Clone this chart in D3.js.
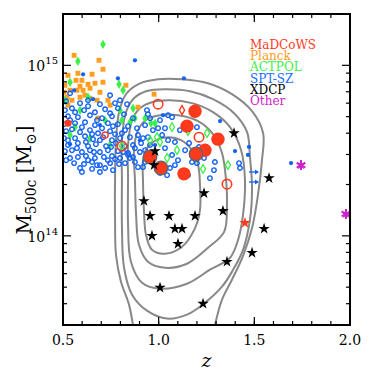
<!DOCTYPE html>
<html>
<head>
<meta charset="utf-8">
<script src="https://cdn.jsdelivr.net/npm/d3@7"></script>
<style>
  body { margin: 0; background: white; }
  text { font-family: "DejaVu Serif", serif; }
</style>
</head>
<body>
<div id="plot"></div>
<script>
// masses in units of 1e14 Msun, z = redshift
var sptRings = [
  [0.516,6.16],[0.589,6.00],[0.631,6.24],[0.693,5.92],[0.772,6.00],
  [0.510,5.46],[0.547,5.60],[0.610,5.46],[0.667,5.31],[0.720,5.53],[0.787,5.60],
  [0.526,5.03],[0.578,4.97],[0.641,5.10],[0.704,4.90],[0.756,5.03],[0.819,5.17],
  [0.505,4.52],[0.563,4.58],[0.615,4.64],[0.667,4.46],[0.735,4.58],[0.787,4.52],[0.840,4.40],
  [0.516,4.11],[0.547,4.22],[0.589,4.06],[0.641,4.17],[0.683,4.00],[0.746,4.11],[0.772,3.95],[0.824,4.17],
  [0.505,3.74],[0.563,3.74],[0.615,3.84],[0.657,3.69],[0.709,3.79],[0.756,3.64],[0.798,3.74],[0.850,3.79],
  [0.526,3.41],[0.578,3.50],[0.631,3.36],[0.672,3.45],[0.725,3.36],[0.777,3.50],[0.824,3.36],[0.866,3.41],
  [0.510,3.14],[0.547,3.18],[0.599,3.10],[0.641,3.18],[0.693,3.10],[0.735,3.18],[0.787,3.14],[0.840,3.06],
  [0.537,2.86],[0.578,2.90],[0.620,2.94],[0.667,2.86],[0.714,2.90],[0.756,2.94],[0.798,2.86],[0.850,2.86],
  [0.558,2.67],[0.610,2.64],[0.652,2.71],[0.693,2.60],[0.746,2.67],[0.793,2.64],
  [0.589,2.50],[0.652,2.47],[0.720,2.50],[0.761,2.43],
  [0.537,4.77],[0.599,4.34],[0.652,3.95],[0.704,4.28],[0.761,4.40],[0.808,4.00],
  [0.573,3.27],[0.662,3.10],[0.751,3.32],[0.814,3.10],[0.526,3.64],[0.620,3.55],
  [0.693,3.64],[0.678,4.77],[0.563,5.31],[0.631,5.76],[0.746,5.24],[0.516,2.78],
  [0.631,2.78],[0.735,2.78],[0.824,2.67],[0.678,2.60],[0.772,2.82],[0.599,2.37],
  [0.693,2.37],[0.537,6.86],[0.746,6.68],[0.798,6.24],
  [0.835,5.92],[0.866,4.90],[0.939,5.46],[0.944,5.17],[1.049,5.10],[1.070,4.97],
  [0.997,4.28],[1.033,4.28],[0.929,4.46],[0.887,4.28],[0.918,3.74],[0.944,3.79],[0.970,4.17],
  [1.049,3.64],[0.908,3.50],[0.929,3.18],[0.876,3.27],[0.840,2.98],[0.866,2.90],[0.876,2.71],
  [0.892,2.53],[0.929,2.71],[0.918,2.53],[1.059,2.50],[1.085,2.60],[1.007,2.34],[1.044,2.27],
  [0.902,3.10],[0.955,3.41],[1.018,3.90],[0.892,3.90],[1.111,4.17],[1.138,3.18],
  [1.101,2.78],[1.033,3.27],[1.070,2.98],[0.955,4.90],[1.007,4.77],
  [1.085,3.55],[1.174,2.71],[1.153,2.27],[1.200,4.34],[1.159,3.50],[1.211,3.32],[1.237,2.86],
  [1.294,2.71],[1.289,2.43],[1.200,2.67],[1.268,2.18],[1.420,2.67],[1.425,2.50]
];
var sptDots = [
  [0.876,10.7],[0.787,8.39],[0.558,7.14],[0.605,8.86],[1.132,8.39],[0.657,6.33],
  [1.321,4.71],[1.399,3.14],[1.472,3.32],[1.467,2.98],[1.692,2.67],[1.023,5.10],
  [0.902,3.64],[0.981,3.41],[0.537,3.45],[0.693,4.46]
];
var planck = [
  [0.558,11.44],[0.688,10.7],[0.709,9.48],[0.578,8.98],[0.652,8.86],[0.709,7.96],
  [0.667,7.85],[0.599,8.17],[0.631,7.74],[0.589,7.54],[0.605,7.14],[0.641,7.34],
  [0.510,7.64],[0.573,7.14],[0.829,7.64],[0.521,6.50],[0.547,6.24],[0.641,6.41],
  [0.678,6.24],[0.735,6.24],[0.746,5.84],[0.683,4.90],[0.892,5.68],[0.976,6.77],
  [0.526,8.74],[0.537,7.14],[0.615,6.68],[0.505,6.95],[0.693,6.95],[0.526,5.84],
  [0.589,6.50],[0.568,8.17]
];
var actFilled = [
  [0.709,13.27],[0.578,10.55],[0.537,7.96],[0.793,7.74],[0.814,7.14],[0.631,6.50],
  [0.563,4.34],[0.537,3.90],[0.798,5.46],[0.808,4.77],[0.866,5.60],[0.876,4.90],
  [0.960,4.58],[0.981,4.58],[0.850,4.64],[0.510,6.24],[0.589,5.46],[0.746,3.41],
  [0.641,3.74],[0.720,4.77],[0.929,4.90]
];
var actOpen = [
  [1.070,4.34],[0.991,3.79],[1.007,3.55],[1.044,2.86],[1.096,3.18],[1.153,4.11],
  [1.253,4.00],[1.362,2.60],[1.232,2.47],[0.808,3.36],[0.955,3.64]
];
var madcowsBig = [[1.190,5.38],[1.148,4.40],[1.310,3.69],[1.242,3.18],[1.132,2.31]];
var madcowsEdged = [[1.195,3.02],[0.955,2.90],[1.012,2.50]];
var madcowsRings = [[0.997,5.92],[1.211,3.79],[0.808,3.36],[1.357,2.01]];
var redSmallRing = [[0.720,3.90]];
var redSmallDot = [[0.526,4.58]];
var redDiamond = [[1.122,5.46]];
var redStar = [[1.451,1.19]];
var xdcp = [
  [0.923,1.60],[0.955,1.31],[1.054,1.31],[1.085,1.10],[1.122,1.10],[0.965,1.00],
  [1.101,0.898],[1.007,0.497],[0.981,3.14],[0.976,2.60],[1.237,1.78],[1.190,1.31],
  [1.336,1.40],[1.551,1.10],[1.488,0.795],[1.357,0.705],[1.232,0.400],[1.394,4.00],
  [1.577,2.18]
];
var other = [[1.744,2.60],[1.979,1.345]];
var arrows = [[1.498,2.37],[1.498,2.07]];

// contour levels, inner to outer (closed loops)
var contour1 = [[0.918,2.13],[0.918,2.78],[0.939,3.27],[0.986,3.64],[1.049,3.79],[1.117,3.64],
  [1.174,3.18],[1.206,2.60],[1.216,1.99],[1.216,1.42],[1.190,1.11],[1.122,0.862],[1.033,0.785],
  [0.965,0.828],[0.934,1.01],[0.923,1.42]];
var contour2 = [[0.876,2.13],[0.871,3.18],[0.892,4.17],[0.939,4.83],[1.007,5.10],[1.101,5.10],
  [1.206,4.71],[1.284,3.95],[1.331,3.06],[1.352,2.13],[1.357,1.52],[1.342,1.055],[1.258,0.851],
  [1.148,0.686],[1.033,0.650],[0.944,0.705],[0.897,0.886],[0.882,1.33]];
var contour3 = [[0.840,2.13],[0.840,3.41],[0.861,4.77],[0.902,5.60],[0.965,6.08],[1.059,6.24],
  [1.174,6.00],[1.284,5.31],[1.373,4.34],[1.431,3.18],[1.451,2.13],[1.441,1.33],[1.415,0.947],
  [1.373,0.744],[1.268,0.633],[1.148,0.524],[1.007,0.490],[0.913,0.531],[0.855,0.705],[0.840,1.16]];
var contour4 = [[0.808,2.13],[0.808,3.64],[0.829,5.31],[0.871,6.41],[0.934,7.05],[1.033,7.24],
  [1.164,7.05],[1.284,6.33],[1.394,5.24],[1.462,4.06],[1.477,2.90],[1.488,1.93],[1.477,1.24],
  [1.441,0.828],[1.383,0.616],[1.331,0.503],[1.242,0.405],[1.148,0.345],[1.044,0.327],
  [0.939,0.364],[0.861,0.452],[0.819,0.650],[0.808,1.16]];
// outermost level, open (runs off the bottom axis)
var contour5 = [[0.866,0.298],[0.845,0.395],[0.803,0.538],[0.777,0.774],[0.772,1.24],[0.772,2.13],
  [0.777,3.64],[0.793,5.31],[0.829,6.77],[0.892,7.74],[0.997,8.28],[1.122,8.28],[1.258,7.85],
  [1.383,6.77],[1.488,5.38],[1.546,4.00],[1.540,2.78],[1.519,1.74],[1.488,1.11],[1.441,0.764],
  [1.383,0.553],[1.331,0.422],[1.294,0.298]];

var legendNames = ["MaDCoWS", "Planck", "ACTPOL", "SPT-SZ", "XDCP", "Other"];
var legendColors = ["#ff3a1c", "#ff9d1f", "#3cf046", "#1a6bff", "#000000", "#cc22cc"];

var xTicks = [0.5, 1.0, 1.5, 2.0];

var W = 374, H = 374;
var margin = { top: 14, right: 24, bottom: 49, left: 63 };
var width = W - margin.left - margin.right;
var height = H - margin.top - margin.bottom;

var svg = d3.select("#plot").append("svg")
    .attr("width", W).attr("height", H);
var g = svg.append("g").attr("transform", `translate(${margin.left},${margin.top})`);

var x = d3.scaleLinear().domain([0.5, 2.0]).range([0, width]);
var y = d3.scaleLog().domain([0.3, 20]).range([height, 0]);

g.append("clipPath").attr("id", "clip").append("rect")
    .attr("width", width).attr("height", height);
var area = g.append("g").attr("clip-path", "url(#clip)");

// contours
var closedLine = d3.line().x(d => x(d[0])).y(d => y(d[1])).curve(d3.curveCatmullRomClosed.alpha(0.5));
var openLine = d3.line().x(d => x(d[0])).y(d => y(d[1])).curve(d3.curveCatmullRom.alpha(0.5));
[contour1, contour2, contour3, contour4].forEach(function(c) {
  area.append("path").datum(c).attr("d", closedLine)
      .attr("fill", "none").attr("stroke", "#888").attr("stroke-width", 2);
});
area.append("path").datum(contour5).attr("d", openLine)
    .attr("fill", "none").attr("stroke", "#888").attr("stroke-width", 2);

function pts(data) {
  return area.append("g").selectAll("path").data(data).enter().append("path")
      .attr("transform", d => `translate(${x(d[0])},${y(d[1])})`);
}

pts(planck).attr("d", d3.symbol(d3.symbolSquare, 24)).attr("fill", "#ff9d1f");
pts(actFilled).attr("d", d3.symbol(d3.symbolDiamond, 26)).attr("fill", "#3cf046");
pts(sptRings).attr("d", d3.symbol(d3.symbolCircle, 16))
    .attr("fill", "none").attr("stroke", "#1262f5").attr("stroke-width", 1.4);
pts(sptDots).attr("d", d3.symbol(d3.symbolCircle, 14)).attr("fill", "#1262f5");
pts(actOpen).attr("d", d3.symbol(d3.symbolDiamond, 22))
    .attr("fill", "none").attr("stroke", "#3cf046").attr("stroke-width", 1.3);

pts(madcowsBig).attr("d", d3.symbol(d3.symbolCircle, 140)).attr("fill", "#ff3a1c");
pts(madcowsEdged).attr("d", d3.symbol(d3.symbolCircle, 140)).attr("fill", "#ff3a1c")
    .attr("stroke", "#666").attr("stroke-width", 1.5);
pts(madcowsRings).attr("d", d3.symbol(d3.symbolCircle, 70))
    .attr("fill", "none").attr("stroke", "#ff3a1c").attr("stroke-width", 1.6);
pts(redSmallRing).attr("d", d3.symbol(d3.symbolCircle, 30))
    .attr("fill", "none").attr("stroke", "#ff3a1c").attr("stroke-width", 1.4);
pts(redSmallDot).attr("d", d3.symbol(d3.symbolCircle, 40)).attr("fill", "#ff3a1c");
pts(redDiamond).attr("d", d3.symbol(d3.symbolDiamond, 24))
    .attr("fill", "none").attr("stroke", "#ff3a1c").attr("stroke-width", 1.4);
pts(redStar).attr("d", d3.symbol(d3.symbolStar, 40)).attr("fill", "#ff3a1c");

pts(xdcp).attr("d", d3.symbol(d3.symbolStar, 40)).attr("fill", "black");

pts(other).attr("d", d3.symbol(d3.symbolAsterisk, 70))
    .attr("fill", "none").attr("stroke", "#cc22cc").attr("stroke-width", 2);
pts(other).attr("d", d3.symbol(d3.symbolStar, 30)).attr("fill", "#cc22cc");

// arrows (lower limits)
var arr = area.append("g").selectAll("g").data(arrows).enter().append("g")
    .attr("transform", d => `translate(${x(d[0])},${y(d[1])})`);
arr.append("line").attr("x1", -5).attr("x2", 4).attr("stroke", "#1262f5").attr("stroke-width", 1.3);
arr.append("path").attr("d", "M1,-2.5L5,0L1,2.5Z").attr("fill", "#1262f5");

// axes, ticks inward on all sides
var minorX = d3.range(0.5, 2.001, 0.1);
var minorY = [0.3,0.4,0.5,0.6,0.7,0.8,0.9,2,3,4,5,6,7,8,9,20];
var majorY = [1, 10];

function tickLines(vals, len, side) {
  vals.forEach(function(v) {
    var l = g.append("line").attr("stroke", "black").attr("stroke-width", 1.2);
    if (side === "bottom") l.attr("x1", x(v)).attr("x2", x(v)).attr("y1", height).attr("y2", height - len);
    if (side === "top") l.attr("x1", x(v)).attr("x2", x(v)).attr("y1", 0).attr("y2", len);
    if (side === "left") l.attr("y1", y(v)).attr("y2", y(v)).attr("x1", 0).attr("x2", len);
    if (side === "right") l.attr("y1", y(v)).attr("y2", y(v)).attr("x1", width).attr("x2", width - len);
  });
}
tickLines(minorX, 4, "bottom"); tickLines(minorX, 4, "top");
tickLines(xTicks, 8, "bottom"); tickLines(xTicks, 8, "top");
tickLines(minorY, 4, "left"); tickLines(minorY, 4, "right");
tickLines(majorY, 8, "left"); tickLines(majorY, 8, "right");

g.append("rect").attr("width", width).attr("height", height)
    .attr("fill", "none").attr("stroke", "black").attr("stroke-width", 2);

g.selectAll(".xl").data(xTicks).enter().append("text")
    .attr("x", d => x(d)).attr("y", height + 20)
    .attr("text-anchor", "middle").style("font-size", "14px")
    .text(d => d.toFixed(1));

majorY.forEach(function(v) {
  var t = g.append("text").attr("x", -5).attr("y", y(v) + 6)
      .attr("text-anchor", "end").style("font-size", "14px");
  t.append("tspan").text("10");
  t.append("tspan").attr("dy", -7).style("font-size", "10px").text(v === 10 ? "15" : "14");
});

g.append("text").attr("x", width / 2).attr("y", height + 42)
    .attr("text-anchor", "middle").style("font-size", "19px").style("font-style", "italic")
    .text("z");

var yl = svg.append("text").attr("transform", "translate(31,180) rotate(-90)")
    .attr("text-anchor", "middle").style("font-size", "20px");
yl.append("tspan").text("M");
yl.append("tspan").attr("dy", 5).style("font-size", "14px").text("500c");
yl.append("tspan").attr("dy", -5).text(" [M");
yl.append("tspan").attr("dy", 5).style("font-size", "14px").text("\u2299");
yl.append("tspan").attr("dy", -5).text("]");

// legend
g.selectAll(".lg").data(legendNames).enter().append("text")
    .attr("x", 187).attr("y", (d, i) => 35 + i * 11.2)
    .style("font-size", "12px")
    .attr("fill", (d, i) => legendColors[i])
    .text(d => d);
</script>
</body>
</html>
